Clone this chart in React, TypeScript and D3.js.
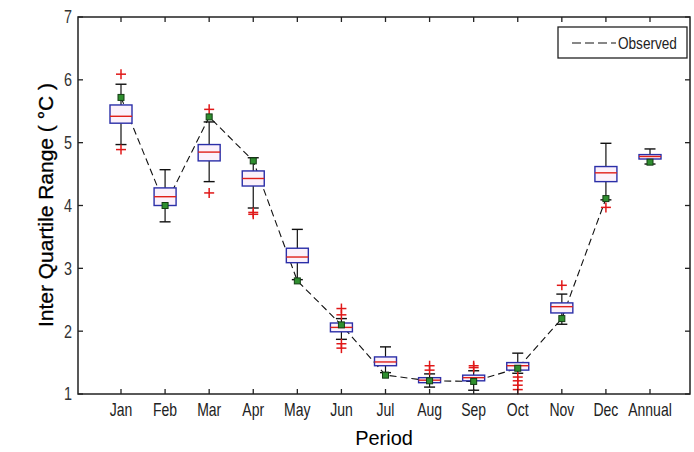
import React from "react";
import * as d3 from "d3";

const categories = ["Jan", "Feb", "Mar", "Apr", "May", "Jun", "Jul", "Aug", "Sep", "Oct", "Nov", "Dec", "Annual"];
const whiskerLow = [4.97, 3.74, 4.38, 3.96, 2.82, 1.87, 1.34, 1.11, 1.06, 1.33, 2.11, 4.09, 4.66];
const q1 = [5.31, 4.0, 4.71, 4.31, 3.09, 1.99, 1.45, 1.18, 1.21, 1.38, 2.29, 4.38, 4.74];
const medians = [5.42, 4.14, 4.85, 4.43, 3.18, 2.06, 1.51, 1.22, 1.26, 1.45, 2.39, 4.52, 4.78];
const q3 = [5.6, 4.28, 4.97, 4.55, 3.32, 2.13, 1.59, 1.26, 1.3, 1.5, 2.45, 4.62, 4.81];
const whiskerHigh = [5.93, 4.57, 5.33, 4.76, 3.62, 2.2, 1.75, 1.32, 1.37, 1.65, 2.59, 4.99, 4.9];
const outliers: number[][] = [
  [6.09, 4.89],
  [],
  [5.53, 4.2],
  [3.86, 3.89],
  [],
  [2.36, 2.26, 1.8, 1.73],
  [],
  [1.45, 1.38],
  [1.45, 1.42],
  [1.27, 1.21, 1.14, 1.07],
  [2.73],
  [3.97],
  [],
];
const observed = [5.72, 4.0, 5.41, 4.71, 2.8, 2.1, 1.3, 1.21, 1.2, 1.41, 2.2, 4.11, 4.69];
const yTicks = [1, 2, 3, 4, 5, 6, 7];

const FONT = "'Liberation Sans', Arial, sans-serif";

function NarrowText(props: { x: number; y: number; anchor: string; size: number; children: React.ReactNode; dy?: string; fill?: string }) {
  return (
    <g transform={`translate(${props.x},${props.y}) scale(0.8,1)`}>
      <text x={0} y={0} dy={props.dy} textAnchor={props.anchor as any} fontFamily={FONT} fontSize={props.size} fill={props.fill || "#222"}>
        {props.children}
      </text>
    </g>
  );
}

export default function App() {
  const W = 694, H = 452;
  const left = 78, right = 690, top = 17, bottom = 394;
  const x = d3.scaleLinear().domain([1, 13]).range([121, 650]);
  const y = d3.scaleLinear().domain([1, 7]).range([bottom, top]);
  const boxW = 22, capW = 11, tickLen = 5, plus = 5;

  const obsLine = d3
    .line<number>()
    .x((_, i) => x(i + 1))
    .y((d) => y(d))(observed.slice(0, 12));

  return (
    <svg width={W} height={H} style={{ position: "absolute", left: 0, top: 0, background: "#fff" }}>
      <rect x={0} y={0} width={W} height={H} fill="#fff" />
      <path d={obsLine || ""} fill="none" stroke="#111" strokeWidth={1.1} strokeDasharray="7,4" />
      {categories.map((c, i) => {
        const cx = x(i + 1);
        return (
          <g key={c}>
            <line x1={cx} x2={cx} y1={y(q3[i])} y2={y(whiskerHigh[i])} stroke="#111" strokeWidth={1.2} />
            <line x1={cx} x2={cx} y1={y(q1[i])} y2={y(whiskerLow[i])} stroke="#111" strokeWidth={1.2} />
            <line x1={cx - capW / 2} x2={cx + capW / 2} y1={y(whiskerHigh[i])} y2={y(whiskerHigh[i])} stroke="#111" strokeWidth={1.4} />
            <line x1={cx - capW / 2} x2={cx + capW / 2} y1={y(whiskerLow[i])} y2={y(whiskerLow[i])} stroke="#111" strokeWidth={1.4} />
            <rect x={cx - boxW / 2} y={y(q3[i])} width={boxW} height={y(q1[i]) - y(q3[i])} fill="#fbf1fb" stroke="#2b2fa8" strokeWidth={1.4} />
            <line x1={cx - boxW / 2} x2={cx + boxW / 2} y1={y(medians[i])} y2={y(medians[i])} stroke="#e0201a" strokeWidth={1.4} />
            {outliers[i].map((o, k) => (
              <g key={k} stroke="#e01818" strokeWidth={1.5}>
                <line x1={cx - plus} x2={cx + plus} y1={y(o)} y2={y(o)} />
                <line x1={cx} x2={cx} y1={y(o) - plus} y2={y(o) + plus} />
              </g>
            ))}
            <rect x={cx - 3} y={y(observed[i]) - 3} width={6} height={6} fill="#2f8f2f" stroke="#143d14" strokeWidth={1} />
          </g>
        );
      })}
      <rect x={left} y={top} width={right - left} height={bottom - top} fill="none" stroke="#222" strokeWidth={1.5} />
      {yTicks.map((t) => (
        <g key={t}>
          <line x1={left} x2={left + tickLen} y1={y(t)} y2={y(t)} stroke="#222" strokeWidth={1.3} />
          <line x1={right} x2={right - tickLen} y1={y(t)} y2={y(t)} stroke="#222" strokeWidth={1.3} />
          <NarrowText x={left - 6} y={y(t)} dy="0.36em" anchor="end" size={18} fill="#333">
            {t}
          </NarrowText>
        </g>
      ))}
      {categories.map((c, i) => (
        <g key={c}>
          <line x1={x(i + 1)} x2={x(i + 1)} y1={bottom} y2={bottom - tickLen} stroke="#222" strokeWidth={1.3} />
          <line x1={x(i + 1)} x2={x(i + 1)} y1={top} y2={top + tickLen} stroke="#222" strokeWidth={1.3} />
          <NarrowText x={x(i + 1)} y={416} anchor="middle" size={17.5}>
            {c}
          </NarrowText>
        </g>
      ))}
      <g transform="translate(384,445) scale(0.95,1)">
        <text x={0} y={0} textAnchor="middle" fontFamily={FONT} fontSize={21} fill="#000">
          Period
        </text>
      </g>
      <text transform={`translate(53,205) rotate(-90)`} textAnchor="middle" fontFamily={FONT} fontSize={21} fill="#000" stroke="#000" strokeWidth={0.3}>
        Inter Quartile Range ( °C )
      </text>
      <rect x={558} y={27} width={129} height={31} fill="#fff" stroke="#222" strokeWidth={1.3} />
      <line x1={572} x2={616} y1={43} y2={43} stroke="#111" strokeWidth={1.2} strokeDasharray="9,4" />
      <NarrowText x={618} y={43} dy="0.36em" anchor="start" size={17}>
        Observed
      </NarrowText>
    </svg>
  );
}
